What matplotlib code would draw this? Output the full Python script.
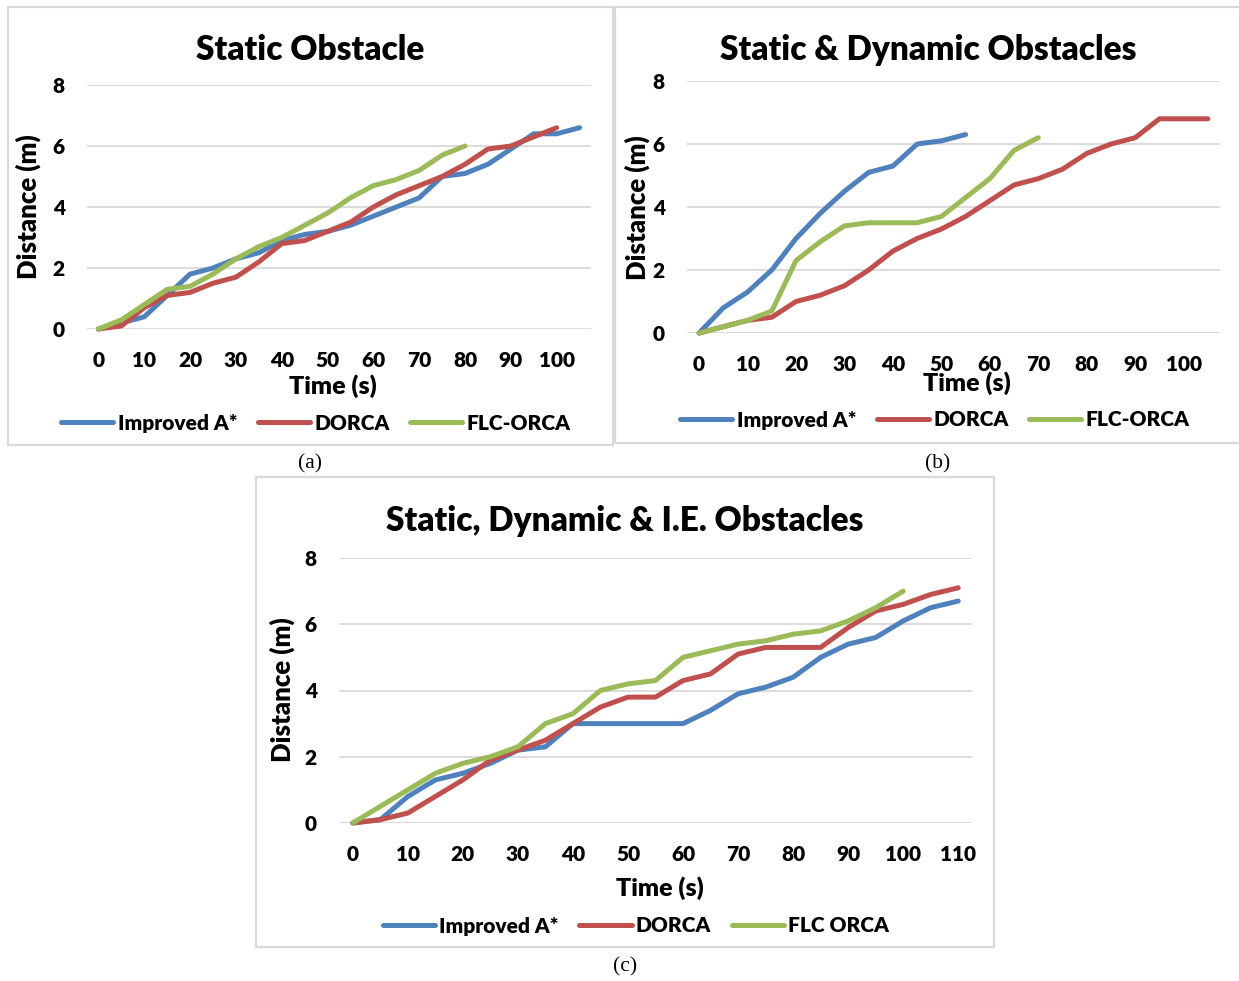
import numpy as np
from matplotlib import pyplot as plt
from matplotlib.patches import Rectangle

# distance travelled (m) sampled every 5 s
time_a = list(range(0, 110, 5))
astar_a = [0, 0.2, 0.4, 1.1, 1.8, 2.0, 2.3, 2.5, 2.9, 3.1, 3.2, 3.4, 3.7, 4.0, 4.3, 5.0, 5.1, 5.4, 5.9, 6.4, 6.4, 6.6]
dorca_a = [0, 0.1, 0.7, 1.1, 1.2, 1.5, 1.7, 2.2, 2.8, 2.9, 3.2, 3.5, 4.0, 4.4, 4.7, 5.0, 5.4, 5.9, 6.0, 6.3, 6.6]
flc_a = [0, 0.3, 0.8, 1.3, 1.4, 1.8, 2.3, 2.7, 3.0, 3.4, 3.8, 4.3, 4.7, 4.9, 5.2, 5.7, 6.0]

time_b = list(range(0, 110, 5))
astar_b = [0, 0.8, 1.3, 2.0, 3.0, 3.8, 4.5, 5.1, 5.3, 6.0, 6.1, 6.3]
dorca_b = [0, 0.2, 0.4, 0.5, 1.0, 1.2, 1.5, 2.0, 2.6, 3.0, 3.3, 3.7, 4.2, 4.7, 4.9, 5.2, 5.7, 6.0, 6.2, 6.8, 6.8, 6.8]
flc_b = [0, 0.2, 0.4, 0.7, 2.3, 2.9, 3.4, 3.5, 3.5, 3.5, 3.7, 4.3, 4.9, 5.8, 6.2]

time_c = list(range(0, 115, 5))
astar_c = [0, 0.1, 0.8, 1.3, 1.5, 1.8, 2.2, 2.3, 3.0, 3.0, 3.0, 3.0, 3.0, 3.4, 3.9, 4.1, 4.4, 5.0, 5.4, 5.6, 6.1, 6.5, 6.7]
dorca_c = [0, 0.1, 0.3, 0.8, 1.3, 1.9, 2.2, 2.5, 3.0, 3.5, 3.8, 3.8, 4.3, 4.5, 5.1, 5.3, 5.3, 5.3, 5.9, 6.4, 6.6, 6.9, 7.1]
flc_c = [0, 0.5, 1.0, 1.5, 1.8, 2.0, 2.3, 3.0, 3.3, 4.0, 4.2, 4.3, 5.0, 5.2, 5.4, 5.5, 5.7, 5.8, 6.1, 6.5, 7.0]

W, H = 1239, 981
BLUE, RED, GREEN = '#4F81BD', '#C0504D', '#9BBB59'
GRID = '#D9D9D9'
FONT = 'Lato'
WEIGHT = 'heavy'

plt.rcParams['font.family'] = [FONT, 'DejaVu Sans']
plt.rcParams['font.weight'] = WEIGHT


def fx(x):
    return x / W


def fy(y):
    return 1 - y / H


def draw_panel(fig, box, frame, times, series, labels, title, title_pos,
               xlabel_pos, ylabel_pos, legend_pos, caption, caption_pos):
    left, top, right, bottom = box
    ax = fig.add_axes([fx(left), fy(bottom), (right - left) / W, (bottom - top) / H])

    for vals, color, name in zip(series, [BLUE, RED, GREEN], labels):
        ax.plot(range(len(vals)), vals, color=color, lw=3.6,
                solid_capstyle='round', solid_joinstyle='round',
                clip_on=False, label=name, zorder=3)

    n = len(times)
    ax.set_xlim(-0.5, n - 0.5)
    ax.set_ylim(0, 8)
    ax.set_yticks([0, 2, 4, 6, 8])
    ax.set_xticks(range(0, n, 2))
    ax.set_xticklabels([str(t) for t in times[::2]])
    ax.grid(axis='y', color=GRID, lw=1.3)
    ax.set_axisbelow(True)
    for s in ax.spines.values():
        s.set_visible(False)
    ax.tick_params(length=0, labelsize=15, colors='black')
    ax.tick_params(axis='x', pad=16)
    ax.tick_params(axis='y', pad=16)

    fig.text(fx(title_pos[0]), fy(title_pos[1]), title, ha='center', va='center',
             fontsize=24, fontweight=WEIGHT)
    fig.text(fx(xlabel_pos[0]), fy(xlabel_pos[1]), 'Time (s)', ha='center', va='center',
             fontsize=18, fontweight=WEIGHT)
    fig.text(fx(ylabel_pos[0]), fy(ylabel_pos[1]), 'Distance (m)', ha='center', va='center',
             rotation=90, fontsize=18.5, fontweight=WEIGHT)

    ax.legend(loc='center', bbox_to_anchor=(fx(legend_pos[0]), fy(legend_pos[1])),
              bbox_transform=fig.transFigure, ncol=3, frameon=False,
              fontsize=15, handlelength=2.5, handletextpad=0.2,
              columnspacing=1.0, borderpad=0)

    fx0, fy0, fx1, fy1 = frame
    fig.patches.append(Rectangle((fx(fx0), fy(fy1)), (fx1 - fx0) / W, (fy1 - fy0) / H,
                                 transform=fig.transFigure, fill=False,
                                 edgecolor=GRID, lw=1.6))

    fig.text(fx(caption_pos[0]), fy(caption_pos[1]), caption, ha='center', va='center',
             fontsize=15.5, fontweight='normal', family='Liberation Serif')
    return ax


def main():
    fig = plt.figure(figsize=(W / 100, H / 100), dpi=100)

    draw_panel(fig, (87, 85, 591, 329), (8, 7, 613, 445), time_a,
               [astar_a, dorca_a, flc_a], ['Improved A*', 'DORCA', 'FLC-ORCA'],
               'Static Obstacle', (310, 50), (333, 386), (28, 207), (316, 423),
               '(a)', (310, 464))

    draw_panel(fig, (687, 81, 1220, 333), (615, 7, 1245, 443), time_b,
               [astar_b, dorca_b, flc_b], ['Improved A*', 'DORCA', 'FLC-ORCA'],
               'Static & Dynamic Obstacles', (928, 50), (967, 383), (637, 208), (935, 420),
               '(b)', (938, 464))

    draw_panel(fig, (339, 558, 972, 823), (256, 477, 994, 947), time_c,
               [astar_c, dorca_c, flc_c], ['Improved A*', 'DORCA', 'FLC ORCA'],
               'Static, Dynamic & I.E. Obstacles', (625, 521), (660, 888), (282, 690), (636, 926),
               '(c)', (625, 967))

    plt.savefig('out.png', dpi=100)


if __name__ == "__main__":
    main()
